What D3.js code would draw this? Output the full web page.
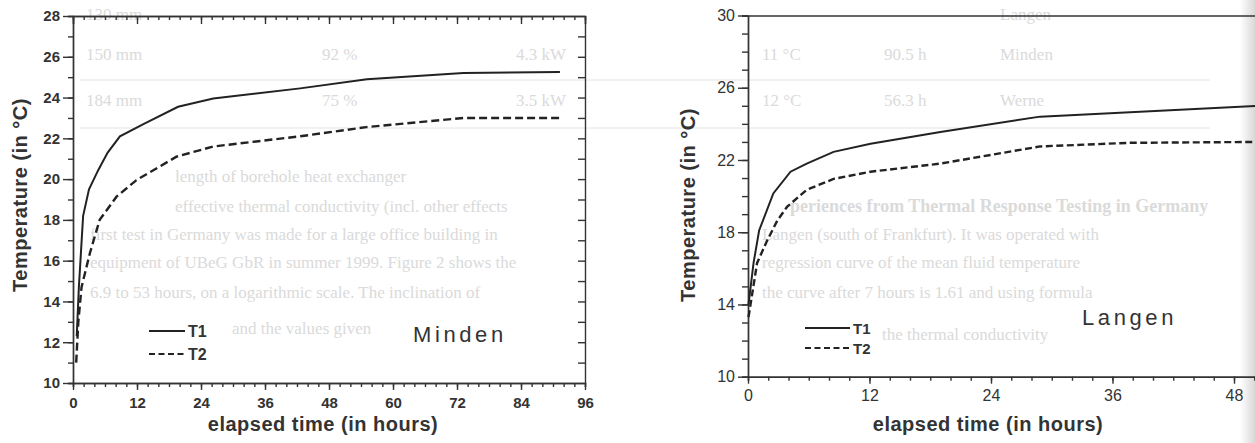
<!DOCTYPE html>
<html>
<head>
<meta charset="utf-8">
<script src="https://cdn.jsdelivr.net/npm/d3@7"></script>
<style>
  body { margin: 0; background: #fff; }
  svg text { font-family: "Liberation Sans", Arial, sans-serif; }
  .page text { font-family: "Liberation Serif", "DejaVu Serif", serif; fill: #dadada; }
</style>
</head>
<body>
<script>
// Minden test (hours, temperature in °C)
let mindenHoursT1 = [0.7, 1.1, 1.9, 3.0, 4.75, 6.5, 8.8, 13.2, 19.7, 26.3, 42.6, 55.1, 73.2, 91.3]
let mindenT1      = [12.3, 14.7, 18.2, 19.5, 20.45, 21.3, 22.1, 22.7, 23.55, 23.95, 24.45, 24.9, 25.2, 25.25]
let mindenHoursT2 = [0.6, 1.0, 1.6, 3.2, 5.0, 8.2, 11.9, 19.4, 26.3, 42.6, 55.0, 73.2, 91.3]
let mindenT2      = [11.0, 13.0, 14.7, 16.4, 18.0, 19.15, 19.95, 21.1, 21.6, 22.1, 22.55, 23.0, 23.0]

// Langen test
let langenHoursT1 = [0.05, 0.55, 1.1, 2.5, 4.2, 5.8, 8.45, 12.1, 19.0, 28.85, 50.5]
let langenT1      = [14.0, 16.3, 18.1, 20.15, 21.35, 21.8, 22.45, 22.9, 23.55, 24.4, 25.0]
let langenHoursT2 = [0.05, 0.9, 1.9, 2.9, 3.85, 5.8, 8.45, 12.1, 19.0, 28.85, 37.7, 50.5]
let langenT2      = [13.3, 16.3, 17.55, 18.65, 19.4, 20.35, 20.95, 21.35, 21.8, 22.75, 22.95, 23.0]

let seriesNames = ["T1", "T2"]

// tick labels
let mindenXTicks = [0, 12, 24, 36, 48, 60, 72, 84, 96]
let mindenYTicks = [10, 12, 14, 16, 18, 20, 22, 24, 26, 28]
let langenXTicks = [0, 12, 24, 36, 48]
let langenYTicks = [10, 14, 18, 22, 26, 30]

var svg = d3.select("body").append("svg")
  .attr("width", 1255)
  .attr("height", 443)

// faint text of the scanned page behind the figure
let page = svg.append("g").attr("class", "page").style("font-size", "17px")
page.append("text").attr("x", 86).attr("y", 20).text("130 mm")
page.append("text").attr("x", 1000).attr("y", 20).text("Langen")
page.append("text").attr("x", 86).attr("y", 60).text("150 mm")
page.append("text").attr("x", 322).attr("y", 60).text("92 %")
page.append("text").attr("x", 516).attr("y", 60).text("4.3 kW")
page.append("text").attr("x", 762).attr("y", 60).text("11 °C")
page.append("text").attr("x", 884).attr("y", 60).text("90.5 h")
page.append("text").attr("x", 1000).attr("y", 60).text("Minden")
page.append("text").attr("x", 86).attr("y", 106).text("184 mm")
page.append("text").attr("x", 322).attr("y", 106).text("75 %")
page.append("text").attr("x", 516).attr("y", 106).text("3.5 kW")
page.append("text").attr("x", 762).attr("y", 106).text("12 °C")
page.append("text").attr("x", 884).attr("y", 106).text("56.3 h")
page.append("text").attr("x", 1000).attr("y", 106).text("Werne")
page.append("line").attr("x1", 80).attr("x2", 1210).attr("y1", 80).attr("y2", 80).style("stroke", "#e4e4e4")
page.append("line").attr("x1", 80).attr("x2", 1210).attr("y1", 128).attr("y2", 128).style("stroke", "#e4e4e4")
page.append("text").attr("x", 175).attr("y", 182).text("length of borehole heat exchanger")
page.append("text").attr("x", 175).attr("y", 212).text("effective thermal conductivity (incl. other effects")
page.append("text").attr("x", 790).attr("y", 212).style("font-weight", "bold").style("font-size", "18px")
  .text("periences from Thermal Response Testing in Germany")
page.append("text").attr("x", 90).attr("y", 240).text("first test in Germany was made for a large office building in")
page.append("text").attr("x", 762).attr("y", 240).text("Langen (south of Frankfurt). It was operated with")
page.append("text").attr("x", 90).attr("y", 268).text("equipment of UBeG GbR in summer 1999. Figure 2 shows the")
page.append("text").attr("x", 762).attr("y", 268).text("regression curve of the mean fluid temperature")
page.append("text").attr("x", 90).attr("y", 298).text("6.9 to 53 hours, on a logarithmic scale. The inclination of")
page.append("text").attr("x", 762).attr("y", 298).text("the curve after 7 hours is 1.61 and using formula")
page.append("text").attr("x", 232).attr("y", 334).text("and the values given")
page.append("text").attr("x", 882).attr("y", 340).text("the thermal conductivity")

// page edge shadow on the right
let grad = svg.append("defs").append("linearGradient").attr("id", "edge")
grad.append("stop").attr("offset", "0%").attr("stop-color", "#fff")
grad.append("stop").attr("offset", "100%").attr("stop-color", "#d8d8d8")
svg.append("rect").attr("x", 1240).attr("y", 0).attr("width", 15).attr("height", 443).style("fill", "url(#edge)")

function styleAxis(sel, size, weight) {
  sel.attr("font-family", null).attr("font-size", null)
  sel.selectAll("path, line").style("stroke", "#333").style("stroke-width", 1.4)
  sel.selectAll("text").style("font-size", size + "px").style("font-weight", weight).style("fill", "#333")
}

function drawPanel(p) {
  let x = d3.scaleLinear().domain(p.xDomain).range([p.left, p.right])
  let y = d3.scaleLinear().domain(p.yDomain).range([p.bottom, p.top])
  let g = svg.append("g")

  // minor ticks first, then the labelled ones
  g.append("g").attr("transform", "translate(" + p.left + ",0)")
    .call(d3.axisLeft(y).tickValues(d3.range(p.yDomain[0], p.yDomain[1] + 1, 1)).tickSize(p.minorLen).tickFormat(""))
    .call(styleAxis, 15, "normal")
  g.append("g").attr("transform", "translate(" + p.left + ",0)")
    .call(d3.axisLeft(y).tickValues(p.yTicks).tickSize(10).tickSizeOuter(0).tickPadding(3).tickFormat(d3.format("d")))
    .call(styleAxis, p.labelSize, p.labelWeight)

  g.append("g").attr("transform", "translate(0," + p.bottom + ")")
    .call(d3.axisBottom(x).tickValues(d3.range(0, p.xDomain[1] + 1, 2)).tickSize(4).tickFormat(""))
    .call(styleAxis, 15, "normal")
  g.append("g").attr("transform", "translate(0," + p.bottom + ")")
    .call(d3.axisBottom(x).tickValues(p.xTicks).tickSize(7).tickSizeOuter(0).tickPadding(p.xPad).tickFormat(d3.format("d")))
    .call(styleAxis, p.labelSize, p.labelWeight)

  // top frame
  let top = d3.axisTop(x).tickSizeOuter(0).tickFormat("")
  if (p.topTicks) {
    g.append("g").attr("transform", "translate(0," + p.top + ")")
      .call(d3.axisTop(x).tickValues(d3.range(0, p.xDomain[1] + 1, 2)).tickSize(-4).tickSizeOuter(0).tickFormat(""))
      .call(styleAxis, 15, "normal")
    top.tickValues(p.xTicks).tickSize(-8)
  } else {
    top.tickValues([])
  }
  g.append("g").attr("transform", "translate(0," + p.top + ")").call(top).call(styleAxis, 15, "normal")

  // right frame
  if (p.rightFrame) {
    g.append("g").attr("transform", "translate(" + p.right + ",0)")
      .call(d3.axisRight(y).tickValues(d3.range(p.yDomain[0] + 1, p.yDomain[1], 1)).tickSize(-7).tickSizeOuter(0).tickFormat(""))
      .call(styleAxis, 15, "normal")
  }

  let line = d3.line().x(d => x(d[0])).y(d => y(d[1]))
  g.append("path").datum(d3.zip(p.h1, p.t1)).attr("d", line)
    .style("fill", "none").style("stroke", "#222").style("stroke-width", 2)
  g.append("path").datum(d3.zip(p.h2, p.t2)).attr("d", line)
    .style("fill", "none").style("stroke", "#222").style("stroke-width", 2.4).style("stroke-dasharray", p.dash)

  // legend
  let dashes = ["none", "6,3.5"]
  seriesNames.forEach(function (name, i) {
    let ly = p.legendY + i * p.legendGap
    g.append("line").attr("x1", p.legendX).attr("x2", p.legendX + p.legendLen).attr("y1", ly).attr("y2", ly)
      .style("stroke", "#222").style("stroke-width", 2).style("stroke-dasharray", dashes[i])
    g.append("text").attr("x", p.legendX + p.legendLen + 3).attr("y", ly + 5.5)
      .style("font-size", p.legendSize + "px").style("font-weight", "bold").style("fill", "#333").text(name)
  })

  g.append("text").attr("x", p.nameX).attr("y", p.nameY)
    .style("font-size", "22px").style("letter-spacing", "3.6px").style("fill", "#333").text(p.name)

  g.append("text").attr("x", p.xTitleX).attr("y", 431).attr("text-anchor", "middle")
    .style("font-size", "20px").style("font-weight", "bold").style("letter-spacing", "0.5px").style("fill", "#333")
    .text("elapsed time (in hours)")

  g.append("text").attr("transform", "translate(" + p.yTitleX + "," + p.yTitleY + ") rotate(-90)")
    .attr("text-anchor", "middle")
    .style("font-size", "20px").style("font-weight", "bold").style("letter-spacing", "0.5px").style("fill", "#333")
    .text("Temperature (in °C)")
}

drawPanel({
  name: "Minden", nameX: 413, nameY: 342,
  left: 73, right: 585, top: 16, bottom: 383,
  xDomain: [0, 96], yDomain: [10, 28], xTicks: mindenXTicks, yTicks: mindenYTicks,
  minorLen: 5, xPad: 7, labelSize: 15, labelWeight: "bold",
  topTicks: true, rightFrame: true,
  h1: mindenHoursT1, t1: mindenT1, h2: mindenHoursT2, t2: mindenT2, dash: "8,4",
  legendX: 149, legendY: 331, legendGap: 23, legendLen: 36, legendSize: 16,
  xTitleX: 323, yTitleX: 27, yTitleY: 195
})

drawPanel({
  name: "Langen", nameX: 1082, nameY: 325,
  left: 748, right: 748 + 52 * 486 / 48, top: 15.5, bottom: 376.7,
  xDomain: [0, 52], yDomain: [10, 30], xTicks: langenXTicks, yTicks: langenYTicks,
  minorLen: 6, xPad: 6, labelSize: 16, labelWeight: "normal",
  topTicks: false, rightFrame: false,
  h1: langenHoursT1, t1: langenT1, h2: langenHoursT2, t2: langenT2, dash: "7,3.5",
  legendX: 805, legendY: 328, legendGap: 20, legendLen: 45, legendSize: 15,
  xTitleX: 988, yTitleX: 695, yTitleY: 205
})
</script>
</body>
</html>
